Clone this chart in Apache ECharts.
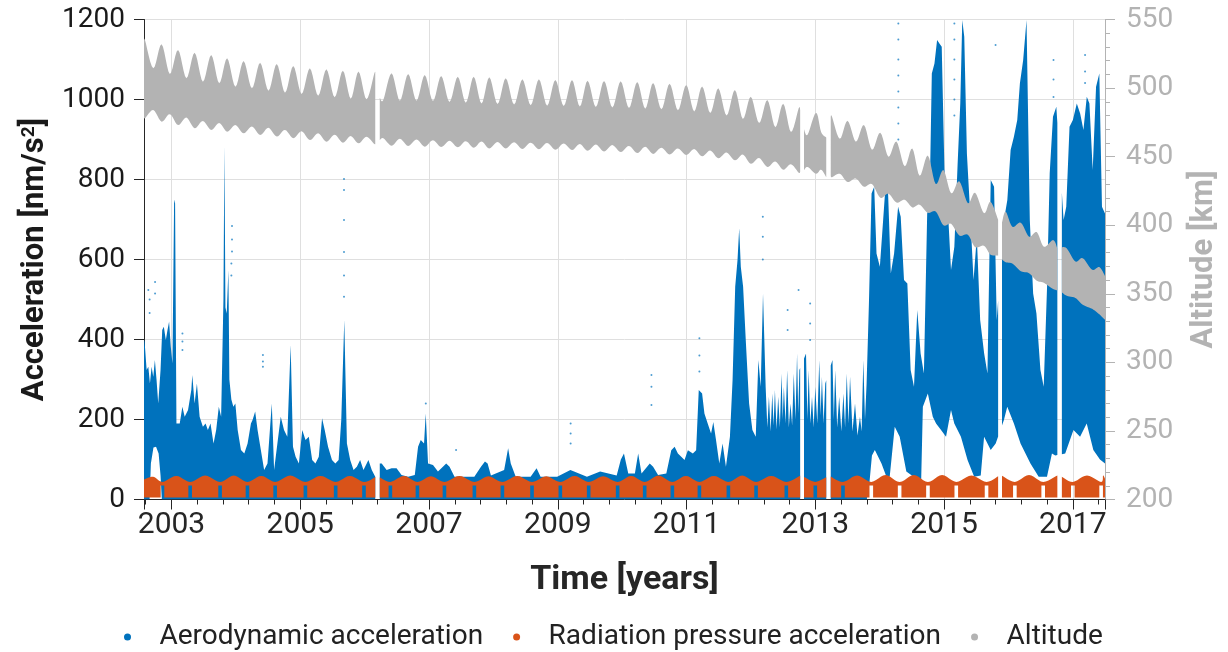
<!DOCTYPE html>
<html>
<head>
<meta charset="utf-8">
<script src="https://cdn.jsdelivr.net/npm/echarts@6/dist/echarts.min.js"></script>
<style>
  html, body { margin: 0; padding: 0; background: #ffffff; }
  #chart { width: 1228px; height: 652px; }
</style>
</head>
<body>
<div id="chart"></div>
<script>
// ---- time span (decimal years) and data gaps ----
const T_START = 2002.573;
const T_END = 2017.5;
const T_REF = 2003;           // x axis runs in years since 2003 so the odd years carry the labels
const DATA_GAPS = [
  [2006.165, 2006.235], [2012.765, 2012.825], [2013.17, 2013.24],
  [2015.84, 2015.90], [2016.76, 2016.83]
];

// ---- aerodynamic acceleration [nm/s^2]: upper and lower envelope of the daily scatter ----
const AERO_TOP = [
  [2002.573, 395], [2002.580, 400], [2002.614, 324], [2002.640, 332], [2002.665, 290], [2002.691, 332],
  [2002.717, 307], [2002.742, 349], [2002.768, 299], [2002.794, 240], [2002.830, 324], [2002.856, 424],
  [2002.881, 432], [2002.912, 399], [2002.938, 424], [2002.963, 445], [2002.989, 382], [2003.015, 340],
  [2003.041, 750], [2003.056, 740], [2003.077, 190], [2003.128, 190], [2003.169, 232], [2003.205, 207],
  [2003.257, 224], [2003.308, 274], [2003.323, 311], [2003.359, 240], [2003.395, 290], [2003.437, 207],
  [2003.488, 182], [2003.529, 190], [2003.565, 174], [2003.606, 190], [2003.653, 140], [2003.694, 174],
  [2003.735, 232], [2003.771, 207], [2003.807, 500], [2003.822, 885], [2003.838, 480], [2003.858, 465],
  [2003.884, 574], [2003.899, 300], [2003.930, 250], [2003.961, 232], [2003.992, 240], [2004.028, 174],
  [2004.079, 124], [2004.131, 115], [2004.182, 140], [2004.234, 190], [2004.259, 199], [2004.300, 220],
  [2004.337, 174], [2004.388, 124], [2004.439, 74], [2004.491, 90], [2004.558, 240], [2004.594, 74],
  [2004.645, 140], [2004.697, 207], [2004.748, 174], [2004.799, 157], [2004.851, 386], [2004.887, 132],
  [2004.928, 107], [2004.979, 90], [2005.031, 174], [2005.082, 149], [2005.133, 157], [2005.185, 99],
  [2005.236, 90], [2005.288, 107], [2005.339, 203], [2005.380, 174], [2005.432, 132], [2005.493, 99],
  [2005.545, 90], [2005.596, 99], [2005.637, 199], [2005.684, 449], [2005.725, 140], [2005.776, 99],
  [2005.828, 74], [2005.879, 82], [2005.930, 99], [2005.982, 74], [2006.059, 99], [2006.111, 74],
  [2006.165, 57], [2006.235, 90], [2006.265, 90], [2006.342, 74], [2006.419, 78], [2006.496, 78],
  [2006.573, 61], [2006.676, 57], [2006.779, 61], [2006.830, 132], [2006.872, 149], [2006.923, 140],
  [2006.949, 215], [2006.985, 90], [2007.062, 86], [2007.139, 70], [2007.216, 82], [2007.267, 90],
  [2007.319, 82], [2007.396, 57], [2007.704, 57], [2007.807, 82], [2007.869, 95], [2007.910, 90],
  [2007.962, 60], [2008.167, 74], [2008.229, 128], [2008.270, 90], [2008.347, 57], [2008.578, 57],
  [2008.671, 78], [2008.733, 57], [2008.990, 57], [2009.196, 74], [2009.453, 57], [2009.658, 70],
  [2009.915, 60], [2009.980, 100], [2010.028, 115], [2010.095, 65], [2010.198, 65], [2010.249, 115],
  [2010.301, 65], [2010.429, 90], [2010.481, 82], [2010.558, 61], [2010.686, 65], [2010.763, 123],
  [2010.815, 132], [2010.866, 115], [2010.918, 107], [2010.969, 99], [2011.021, 123], [2011.098, 115],
  [2011.149, 123], [2011.190, 274], [2011.242, 265], [2011.278, 215], [2011.329, 190], [2011.381, 165],
  [2011.416, 194], [2011.458, 149], [2011.509, 90], [2011.560, 140], [2011.612, 82], [2011.674, 157],
  [2011.715, 298], [2011.756, 532], [2011.792, 599], [2011.818, 678], [2011.843, 582], [2011.879, 532],
  [2011.920, 399], [2011.972, 240], [2012.023, 174], [2012.075, 157], [2012.116, 349], [2012.152, 282],
  [2012.188, 515], [2012.229, 282], [2012.255, 180], [2012.280, 257], [2012.306, 170], [2012.332, 265],
  [2012.352, 185], [2012.373, 274], [2012.398, 175], [2012.424, 257], [2012.450, 180], [2012.476, 315],
  [2012.494, 200], [2012.512, 282], [2012.538, 190], [2012.563, 324], [2012.589, 180], [2012.615, 240],
  [2012.640, 185], [2012.666, 315], [2012.692, 200], [2012.717, 365], [2012.735, 215], [2012.753, 324],
  [2012.856, 365], [2012.877, 200], [2012.897, 324], [2012.923, 190], [2012.949, 257], [2012.975, 180],
  [2013.000, 282], [2013.031, 190], [2013.062, 349], [2013.083, 210], [2013.103, 307], [2013.129, 190],
  [2013.155, 290], [2013.267, 349], [2013.288, 200], [2013.309, 324], [2013.340, 180], [2013.371, 257],
  [2013.404, 170], [2013.437, 265], [2013.463, 180], [2013.489, 315], [2013.515, 190], [2013.540, 307],
  [2013.578, 170], [2013.617, 240], [2013.655, 160], [2013.694, 207], [2013.720, 170], [2013.746, 349],
  [2013.772, 200], [2013.797, 290],
  [2013.833, 490], [2013.874, 765], [2013.915, 782], [2013.951, 615], [2014.003, 582], [2014.054, 699],
  [2014.090, 782], [2014.131, 765], [2014.173, 565], [2014.224, 615], [2014.286, 732], [2014.327, 707],
  [2014.378, 549], [2014.430, 540], [2014.481, 324], [2014.533, 282], [2014.584, 474], [2014.636, 365],
  [2014.687, 315], [2014.738, 715], [2014.774, 732], [2014.810, 1065], [2014.851, 1090], [2014.892, 1149],
  [2014.928, 1140], [2014.964, 1132], [2015.006, 824], [2015.057, 732], [2015.108, 574], [2015.160, 632],
  [2015.211, 840], [2015.252, 990], [2015.283, 1199], [2015.314, 1157], [2015.355, 865], [2015.406, 715],
  [2015.458, 549], [2015.509, 657], [2015.561, 449], [2015.623, 365], [2015.674, 315], [2015.725, 799],
  [2015.777, 782], [2015.818, 449], [2015.931, 699], [2015.983, 749], [2016.034, 874], [2016.085, 907],
  [2016.137, 949], [2016.178, 1040], [2016.229, 1099], [2016.281, 1199], [2016.332, 699], [2016.384, 515],
  [2016.435, 465], [2016.497, 324], [2016.548, 282], [2016.600, 532], [2016.641, 815], [2016.692, 957],
  [2016.744, 982], [2016.857, 699], [2016.898, 732], [2016.949, 932], [2017.001, 949], [2017.062, 990],
  [2017.114, 965], [2017.165, 924], [2017.217, 1007], [2017.258, 990], [2017.309, 824], [2017.361, 1032],
  [2017.412, 1065], [2017.453, 732], [2017.500, 715]
];
const AERO_BOTTOM = [
  [2002.573, 0], [2002.660, 0], [2002.680, 90], [2002.720, 130], [2002.760, 132], [2002.800, 115],
  [2002.830, 60], [2002.850, 0], [2013.800, 0], [2013.840, 40], [2013.880, 110], [2013.925, 124],
  [2014.028, 90], [2014.105, 57], [2014.156, 57], [2014.234, 182], [2014.311, 157], [2014.414, 70],
  [2014.542, 55], [2014.645, 49], [2014.671, 232], [2014.748, 265], [2014.825, 207], [2014.876, 190],
  [2014.953, 174], [2015.031, 157], [2015.108, 224], [2015.159, 190], [2015.262, 157], [2015.365, 99],
  [2015.468, 57], [2015.570, 60], [2015.622, 157], [2015.725, 124], [2015.802, 140], [2015.930, 199],
  [2015.982, 232], [2016.085, 190], [2016.188, 140], [2016.342, 90], [2016.470, 57], [2016.599, 57],
  [2016.676, 115], [2016.728, 110], [2016.882, 115], [2017.010, 174], [2017.113, 157], [2017.216, 190],
  [2017.319, 124], [2017.422, 100], [2017.500, 90]
];
// isolated samples standing above the dense band
const AERO_DOTS = [
  [2002.640, 524], [2002.660, 500], [2002.660, 466], [2002.745, 544], [2002.745, 515],
  [2003.170, 415], [2003.170, 395], [2003.170, 374], [2003.940, 684], [2003.940, 650], [2003.940, 620],
  [2003.930, 590], [2003.930, 560], [2004.420, 361], [2004.420, 345], [2004.420, 332],
  [2005.680, 801], [2005.680, 774], [2005.680, 699], [2005.680, 619], [2005.680, 560], [2005.680, 507],
  [2006.950, 240], [2007.420, 124], [2009.200, 190], [2009.200, 165], [2009.200, 140],
  [2010.455, 311], [2010.455, 282], [2010.455, 236], [2011.200, 403], [2011.200, 360], [2011.200, 320],
  [2012.185, 707], [2012.185, 657], [2012.185, 600], [2012.570, 474], [2012.570, 424], [2012.740, 524],
  [2012.920, 490], [2012.920, 440], [2012.920, 399],
  [2014.290, 1190], [2014.290, 1150], [2014.290, 1100], [2014.290, 1060], [2014.290, 1020],
  [2014.290, 980], [2014.290, 940], [2014.290, 900], [2014.290, 860], [2014.290, 820],
  [2015.160, 1190], [2015.160, 1150], [2015.160, 1100], [2015.160, 1050], [2015.160, 1000], [2015.160, 960],
  [2015.800, 1136], [2016.700, 1099], [2016.700, 1050], [2016.700, 1006],
  [2017.190, 1111], [2017.190, 1070], [2017.190, 1041]
];

// ---- radiation pressure acceleration [nm/s^2]: eclipse-season notches and arch tops ----
const SRP_NOTCH_T = [
  2002.86, 2003.29, 2003.755, 2004.18, 2004.61, 2005.08, 2005.55, 2005.99, 2006.40, 2006.82,
  2007.24, 2007.705, 2008.14, 2008.60, 2009.04, 2009.48, 2009.93, 2010.35, 2010.78, 2011.20,
  2011.65, 2012.08, 2012.55, 2013.00, 2013.43, 2013.87, 2014.31, 2014.75, 2015.19, 2015.66,
  2016.10, 2016.54, 2017.00, 2017.44
];
const SRP_PEAK = [
  57, 59, 60, 60, 59, 60, 59, 59, 58, 59, 58, 59, 58, 59, 58, 59, 58, 59,
  60, 59, 59, 60, 59, 60, 59, 60, 61, 61, 61, 60, 61, 61, 61, 60, 60
];
const SRP_NOTCH_TOP = 44;     // upper edge at a notch
const SRP_NOTCH_FLOOR = 35;   // lowest value reached inside a notch
const SRP_BASE = 5;           // lowest value outside the notches
const SRP_NOTCH_HALF = 0.028; // half width of a notch [years]

// ---- altitude [km]: upper and lower envelope of the orbit ----
const ALT_UPPER = [
  [2002.573, 533], [2002.588, 535], [2002.717, 514.4], [2002.846, 531.9], [2002.974, 510.3], [2003.102, 527.8],
  [2003.231, 507.2], [2003.359, 525.8], [2003.488, 504.7], [2003.617, 524.1], [2003.741, 503.5], [2003.864, 521.7],
  [2003.992, 501.0], [2004.120, 519.7], [2004.249, 499.8], [2004.377, 518.5], [2004.506, 498.1], [2004.635, 517.6],
  [2004.763, 496.6], [2004.891, 516.1], [2005.020, 495.7], [2005.149, 514.4], [2005.278, 494.4], [2005.406, 513.7],
  [2005.534, 493.3], [2005.662, 512.7], [2005.784, 492.3], [2005.905, 512.0], [2006.028, 491.8], [2006.151, 510.8],
  [2006.165, 510], [2006.235, 493], [2006.290, 491.3], [2006.418, 510.8], [2006.547, 490.8], [2006.676, 510.3],
  [2006.805, 490.8], [2006.933, 509.5], [2007.061, 490.5], [2007.189, 508.8], [2007.318, 489.9], [2007.447, 508.3],
  [2007.571, 489.3], [2007.694, 508.3], [2007.815, 488.7], [2007.936, 507.9], [2008.064, 488.3], [2008.192, 507.2],
  [2008.321, 488.0], [2008.450, 506.4], [2008.579, 487.5], [2008.707, 506.4], [2008.835, 487.2], [2008.963, 505.9],
  [2009.092, 486.9], [2009.221, 505.9], [2009.342, 486.5], [2009.463, 505.4], [2009.591, 486.2], [2009.719, 505.2],
  [2009.848, 485.8], [2009.977, 504.9], [2010.106, 485.4], [2010.234, 504.4], [2010.358, 485.0], [2010.481, 503.7],
  [2010.609, 484.5], [2010.737, 503.2], [2010.866, 483.8], [2010.995, 502.3], [2011.119, 483.0], [2011.242, 501.2],
  [2011.368, 481.8], [2011.493, 499.8], [2011.622, 480.0], [2011.751, 498.6], [2011.875, 477.5], [2011.998, 493.7],
  [2012.127, 474.5], [2012.255, 491.3], [2012.379, 471.5], [2012.502, 488.6], [2012.622, 468.0], [2012.742, 485.2],
  [2012.765, 484], [2012.825, 470], [2012.880, 466], [2013.011, 482], [2013.090, 468], [2013.170, 464],
  [2013.240, 479], [2013.260, 479], [2013.380, 463], [2013.501, 476.2], [2013.630, 460.9], [2013.756, 473.1],
  [2013.880, 455], [2014.010, 467.5], [2014.135, 450], [2014.260, 461.0], [2014.388, 443], [2014.507, 456.0],
  [2014.620, 436], [2014.748, 450.8], [2014.870, 430], [2014.990, 440.3], [2015.110, 423.3], [2015.237, 432.0],
  [2015.370, 416], [2015.483, 423.7], [2015.620, 408.7], [2015.722, 417.2], [2015.840, 404], [2015.900, 402],
  [2015.957, 409.9], [2016.060, 398.9], [2016.193, 401.8], [2016.320, 391.6], [2016.440, 395.0], [2016.550, 384.3],
  [2016.694, 389.2], [2016.760, 383], [2016.830, 384], [2016.907, 383], [2017.040, 373.5], [2017.154, 376],
  [2017.300, 367.5], [2017.412, 369.5], [2017.500, 363]
];
const ALT_LOWER = [
  [2002.573, 480], [2002.588, 478], [2002.717, 484], [2002.846, 475.5], [2002.974, 481], [2003.102, 473],
  [2003.231, 478.5], [2003.359, 470.7], [2003.488, 476], [2003.617, 469.4], [2003.741, 474.5], [2003.864, 468.2],
  [2003.992, 473], [2004.120, 467], [2004.249, 472], [2004.377, 465.8], [2004.506, 471], [2004.635, 464.6],
  [2004.763, 469.5], [2004.891, 463.4], [2005.020, 468.5], [2005.149, 462.1], [2005.278, 467], [2005.406, 460.9],
  [2005.534, 466], [2005.662, 460.2], [2005.784, 465], [2005.905, 459.7], [2006.028, 464.5], [2006.151, 459.2],
  [2006.165, 460], [2006.235, 462], [2006.290, 463.5], [2006.418, 458], [2006.547, 463], [2006.676, 457.8],
  [2006.805, 462.5], [2006.933, 457.3], [2007.061, 462], [2007.189, 457], [2007.318, 461.5], [2007.447, 456.8],
  [2007.571, 461.3], [2007.694, 456.5], [2007.815, 461], [2007.936, 456], [2008.064, 460.7], [2008.192, 456],
  [2008.321, 460.5], [2008.450, 455.6], [2008.579, 460.2], [2008.707, 455.4], [2008.835, 460], [2008.963, 455],
  [2009.092, 459.6], [2009.221, 454.8], [2009.342, 459.2], [2009.463, 454.3], [2009.591, 458.8], [2009.719, 453.8],
  [2009.848, 458.4], [2009.977, 453.3], [2010.106, 457.8], [2010.234, 452.6], [2010.358, 457.2], [2010.481, 452],
  [2010.609, 456.5], [2010.737, 451.6], [2010.866, 456], [2010.995, 451.2], [2011.119, 455.5], [2011.242, 450.2],
  [2011.368, 454.5], [2011.493, 448.8], [2011.622, 453], [2011.751, 447.3], [2011.875, 451.5], [2011.998, 444.8],
  [2012.127, 449], [2012.255, 442.5], [2012.379, 446.5], [2012.502, 440.5], [2012.622, 444.5], [2012.742, 438.3],
  [2012.765, 439], [2012.825, 440], [2012.880, 442.5], [2013.011, 437.5], [2013.090, 440.5], [2013.170, 435],
  [2013.240, 436], [2013.260, 435], [2013.380, 437.5], [2013.501, 431.5], [2013.630, 434], [2013.756, 428],
  [2013.880, 430], [2014.010, 420], [2014.135, 423], [2014.260, 416.5], [2014.388, 418.5], [2014.507, 413],
  [2014.620, 415], [2014.748, 409], [2014.870, 410], [2014.990, 400], [2015.110, 401], [2015.237, 392.5],
  [2015.370, 393], [2015.483, 384], [2015.620, 385], [2015.722, 378.5], [2015.840, 378], [2015.900, 375],
  [2015.957, 373], [2016.060, 372], [2016.193, 366.5], [2016.320, 365], [2016.440, 359.5], [2016.550, 358],
  [2016.694, 353.5], [2016.760, 352.5], [2016.830, 351], [2016.907, 348.5], [2017.040, 347], [2017.154, 342],
  [2017.300, 339], [2017.412, 335], [2017.500, 331]
];

// ---- colours ----
const C_AERO = '#0072BD';
const C_SRP = '#D95319';
const C_ALT = '#B3B3B3';
const C_AXIS = '#262626';
const C_GRID = '#dfdfdf';
const FONT = 'Roboto, "Noto Sans", sans-serif';

// ---- helpers ----
// continuous pieces of the record between the data gaps
const SEGMENTS = (() => {
  const s = [];
  let a = T_START;
  DATA_GAPS.forEach(g => { s.push([a, g[0]]); a = g[1]; });
  s.push([a, T_END]);
  return s;
})();

// value of a polyline at time t (used only to close a piece at a gap edge)
function valueAt(pts, t) {
  for (let i = 0; i < pts.length - 1; i++) {
    const p = pts[i], q = pts[i + 1];
    if (p[0] <= t && q[0] >= t) {
      if (q[0] === p[0]) return p[1];
      return p[1] + (q[1] - p[1]) * (t - p[0]) / (q[0] - p[0]);
    }
  }
  return pts.length ? pts[pts.length - 1][1] : 0;
}
function clipPiece(pts, a, b) {
  const out = pts.filter(p => p[0] >= a && p[0] <= b);
  if (!out.length || out[0][0] > a) out.unshift([a, valueAt(pts, a)]);
  if (out[out.length - 1][0] < b) out.push([b, valueAt(pts, b)]);
  return out;
}
// Catmull-Rom curve through pixel points
function smoothPx(pts, n) {
  if (pts.length < 3) return pts;
  const out = [];
  for (let i = 0; i < pts.length - 1; i++) {
    const p0 = pts[Math.max(i - 1, 0)], p1 = pts[i], p2 = pts[i + 1], p3 = pts[Math.min(i + 2, pts.length - 1)];
    for (let k = 0; k < n; k++) {
      const s = k / n, s2 = s * s, s3 = s2 * s;
      const f = j => 0.5 * (2 * p1[j] + (-p0[j] + p2[j]) * s +
        (2 * p0[j] - 5 * p1[j] + 4 * p2[j] - p3[j]) * s2 +
        (-p0[j] + 3 * p1[j] - 3 * p2[j] + p3[j]) * s3);
      out.push([f(0), f(1)]);
    }
  }
  out.push(pts[pts.length - 1]);
  return out;
}

// radiation pressure outline built from the notch list
const SRP_TOP = (() => {
  const pts = [[T_START, 50]];
  SRP_NOTCH_T.forEach((c, i) => {
    const prev = i === 0 ? T_START : SRP_NOTCH_T[i - 1];
    pts.push([(prev + c) / 2, SRP_PEAK[i]]);
    pts.push([c, SRP_NOTCH_TOP]);
  });
  const last = SRP_NOTCH_T[SRP_NOTCH_T.length - 1];
  pts.push([(last + T_END) / 2, SRP_PEAK[SRP_PEAK.length - 1]]);
  pts.push([T_END, 52]);
  return pts;
})();
const SRP_BOTTOM = (() => {
  const pts = [[T_START, SRP_BASE]];
  SRP_NOTCH_T.forEach(c => {
    pts.push([c - SRP_NOTCH_HALF, SRP_BASE], [c - SRP_NOTCH_HALF, SRP_NOTCH_FLOOR],
             [c + SRP_NOTCH_HALF, SRP_NOTCH_FLOOR], [c + SRP_NOTCH_HALF, SRP_BASE]);
  });
  pts.push([T_END, SRP_BASE]);
  return pts;
})();

// one filled band per continuous piece, drawn through the axes of the grid
function bandSeries(name, color, yAxisIndex, topPts, botPts, smoothTop, smoothBot, z) {
  return {
    type: 'custom',
    name: name,
    yAxisIndex: yAxisIndex,
    clip: true,
    silent: true,
    z: z,
    itemStyle: { color: color },
    encode: { x: 0, y: 1 },
    data: SEGMENTS.map((s, i) => [s[0] - T_REF, yAxisIndex ? 300 : 0, i]),
    renderItem: function (params, api) {
      const seg = SEGMENTS[params.dataIndex];
      const toPx = p => api.coord([p[0] - T_REF, p[1]]);
      let top = clipPiece(topPts, seg[0], seg[1]).map(toPx);
      let bot = clipPiece(botPts, seg[0], seg[1]).map(toPx);
      if (smoothTop) top = smoothPx(top, 6);
      if (smoothBot) bot = smoothPx(bot, 6);
      return {
        type: 'polygon',
        shape: { points: top.concat(bot.reverse()) },
        style: { fill: color }
      };
    }
  };
}

const chart = echarts.init(document.getElementById('chart'), null, { renderer: 'canvas' });

chart.setOption({
  animation: false,
  backgroundColor: '#ffffff',
  grid: { left: 144, right: 116, top: 19.5, bottom: 152.5, containLabel: false },
  legend: {
    left: 119,
    top: 618,
    itemWidth: 54,
    itemHeight: 7,
    itemGap: 30,
    icon: 'circle',
    textStyle: { fontSize: 28, color: '#222222', fontFamily: FONT },
    data: [
      { name: 'Aerodynamic acceleration', icon: 'circle', itemStyle: { color: C_AERO } },
      { name: 'Radiation pressure acceleration', icon: 'circle', itemStyle: { color: C_SRP } },
      { name: 'Altitude', icon: 'circle', itemStyle: { color: C_ALT } }
    ]
  },
  xAxis: {
    type: 'value',
    min: T_START - T_REF,
    max: T_END - T_REF,
    minInterval: 2,
    maxInterval: 2,
    axisLine: { show: true, onZero: false, lineStyle: { color: C_AXIS, width: 1 } },
    axisTick: { show: true, length: 10, lineStyle: { color: C_AXIS } },
    minorTick: { show: true, splitNumber: 5, length: 5, lineStyle: { color: C_AXIS } },
    axisLabel: {
      fontSize: 30, color: '#262626', fontFamily: FONT, margin: 11,
      formatter: v => {
        const r = Math.round(v);
        return Math.abs(v - r) < 1e-6 ? String(r + T_REF) : '';
      }
    },
    splitLine: { show: true, lineStyle: { color: C_GRID, width: 1 } },
    name: 'Time [years]',
    nameLocation: 'middle',
    nameGap: 64,
    nameTextStyle: { fontSize: 34, fontWeight: 'bold', color: '#262626', fontFamily: FONT }
  },
  yAxis: [
    {
      type: 'value',
      position: 'left',
      min: 0, max: 1200, interval: 200,
      axisLine: { show: true, onZero: false, lineStyle: { color: C_AXIS, width: 1 } },
      axisTick: { show: true, length: 10, lineStyle: { color: C_AXIS } },
      axisLabel: { fontSize: 28, color: '#1a1a1a', fontFamily: FONT, margin: 19, formatter: v => String(v) },
      splitLine: { show: true, lineStyle: { color: C_GRID, width: 1 } },
      name: 'Acceleration [nm/s{sup|2}]',
      nameLocation: 'middle',
      nameRotate: 90,
      nameGap: 92,
      nameTextStyle: {
        fontSize: 31, fontWeight: 'bold', color: '#1a1a1a', fontFamily: FONT,
        rich: { sup: { fontSize: 19, fontWeight: 'bold', color: '#1a1a1a', fontFamily: FONT, verticalAlign: 'top', lineHeight: 19 } }
      }
    },
    {
      type: 'value',
      position: 'right',
      min: 200, max: 550, interval: 50,
      axisLine: { show: true, onZero: false, lineStyle: { color: C_ALT, width: 1 } },
      axisTick: { show: true, length: 10, lineStyle: { color: C_ALT } },
      minorTick: { show: true, splitNumber: 5, length: 5, lineStyle: { color: C_ALT } },
      axisLabel: { fontSize: 28, color: C_ALT, fontFamily: FONT, margin: 21, formatter: v => String(v) },
      splitLine: { show: false },
      name: 'Altitude [km]',
      nameLocation: 'middle',
      nameRotate: 90,
      nameGap: 84,
      nameTextStyle: { fontSize: 31, fontWeight: 'bold', color: C_ALT, fontFamily: FONT }
    }
  ],
  series: [
    bandSeries('Aerodynamic acceleration', C_AERO, 0, AERO_TOP, AERO_BOTTOM, false, false, 2),
    {
      type: 'scatter',
      name: 'Aerodynamic acceleration',
      yAxisIndex: 0,
      silent: true,
      z: 2,
      symbol: 'circle',
      symbolSize: 2,
      itemStyle: { color: C_AERO, opacity: 0.7 },
      data: AERO_DOTS.map(p => [p[0] - T_REF, p[1]])
    },
    bandSeries('Radiation pressure acceleration', C_SRP, 0, SRP_TOP, SRP_BOTTOM, true, false, 3),
    bandSeries('Altitude', C_ALT, 1, ALT_UPPER, ALT_LOWER, true, true, 4)
  ]
});
</script>
</body>
</html>
